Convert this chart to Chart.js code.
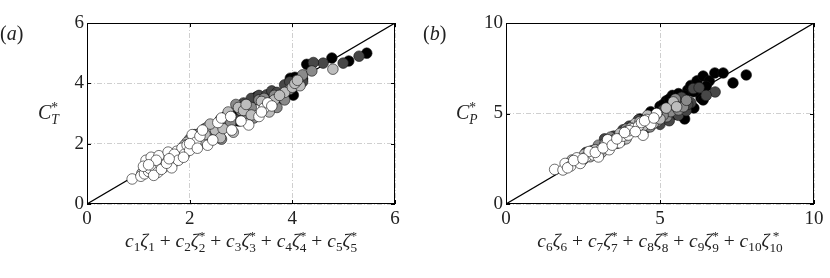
<!DOCTYPE html>
<html>
<head>
<meta charset="utf-8">
<script src="https://cdn.jsdelivr.net/npm/chart.js@4.4.1/dist/chart.umd.min.js"></script>
<style>
  body { margin: 0; background: #fff; width: 830px; height: 278px; overflow: hidden; position: relative;
         font-family: "Liberation Serif", serif; color: #222; }
  .panel { position: absolute; top: 0; height: 278px; }
  .lbl { position: absolute; white-space: nowrap; font-size: 20px; line-height: 1.2; }
  .xt { width: 308px; text-align: center; font-size: 19.5px; top: 229px; }
  .ss { display: inline-flex; flex-direction: column; vertical-align: 0.55em; font-size: 0.68em; line-height: 0.92em; font-style: normal; }
  .ss i { font-style: italic; }
  sub { font-size: 0.68em; font-style: normal; vertical-align: -0.3em; line-height: 0; }
</style>
</head>
<body>
<div class="panel" style="left:0;width:415px"><canvas id="chartA" width="415" height="278"></canvas></div>
<div class="panel" style="left:419px;width:411px"><canvas id="chartB" width="411" height="278"></canvas></div>

<div class="lbl" style="left:0;top:21px">(<i>a</i>)</div>
<div class="lbl" style="left:423px;top:21px">(<i>b</i>)</div>
<div class="lbl" style="left:38px;top:100px"><i>C</i><span class="ss"><span>*</span><i>T</i></span></div>
<div class="lbl" style="left:456px;top:100px"><i>C</i><span class="ss"><span>*</span><i>P</i></span></div>
<div class="lbl xt" style="left:87px">
  <i>c</i><sub>1</sub><i>ζ</i><sub>1</sub> + <i>c</i><sub>2</sub><i>ζ</i><span class="ss"><span>*</span><span>2</span></span>
  + <i>c</i><sub>3</sub><i>ζ</i><span class="ss"><span>*</span><span>3</span></span>
  + <i>c</i><sub>4</sub><i>ζ</i><span class="ss"><span>*</span><span>4</span></span>
  + <i>c</i><sub>5</sub><i>ζ</i><span class="ss"><span>*</span><span>5</span></span>
</div>
<div class="lbl xt" style="left:506px">
  <i>c</i><sub>6</sub><i>ζ</i><sub>6</sub> + <i>c</i><sub>7</sub><i>ζ</i><span class="ss"><span>*</span><span>7</span></span>
  + <i>c</i><sub>8</sub><i>ζ</i><span class="ss"><span>*</span><span>8</span></span>
  + <i>c</i><sub>9</sub><i>ζ</i><span class="ss"><span>*</span><span>9</span></span>
  + <i>c</i><sub>10</sub><i>ζ</i><span class="ss"><span>*</span><span>10</span></span>
</div>

<script>
// ---- panel (a): C_T* against the linear model ----
const aTicks = [0, 2, 4, 6];
const aWhite = [[0.88,0.83],[1.05,0.92],[1.12,1.0],[1.2,1.08],[1.22,1.18],[1.15,1.45],[1.28,1.5],[1.32,1.2],
  [1.38,1.05],[1.42,1.35],[1.47,1.42],[1.5,1.22],[1.55,1.55],[1.6,1.3],[1.63,1.62],[1.7,1.4],[1.75,1.75],
  [1.8,1.52],[1.85,1.85],[1.9,1.65],[1.95,1.95],[2.0,1.78],[2.05,2.3],[2.12,2.05],[2.2,2.25],[2.35,1.95],
  [2.45,2.12],[2.55,2.7],[2.62,2.85],[2.8,2.9],[2.82,2.45],[3.15,2.62],[3.35,2.9],[3.45,3.18],[3.52,3.35],
  [3.4,3.05],[1.25,1.55],[1.4,1.6],[1.58,1.72],[1.3,0.95],[1.65,1.2],[1.1,1.25],[1.35,1.45],[1.45,1.15],
  [1.55,1.35],[1.7,1.65],[1.78,1.45],[1.88,1.55],[2.0,2.0],[2.15,1.85],[2.25,2.45],[1.6,1.5],[1.2,1.3],
  [3.6,3.25],[3.0,2.75]];
const aLight = [[1.07,1.02],[1.3,1.35],[1.5,1.45],[1.65,1.62],[1.85,1.68],[1.95,2.05],[2.15,2.2],[2.27,2.12],
  [2.35,2.55],[2.5,2.45],[2.6,2.2],[2.75,3.05],[2.85,2.38],[2.95,3.2],[3.05,3.1],[3.2,2.95],[3.55,3.05],
  [3.65,3.45],[3.85,3.7],[4.0,3.87],[4.15,3.92],[4.05,4.0],[4.79,4.47],[1.75,1.6],[2.05,1.95],[2.4,2.65],
  [1.25,1.12],[1.6,1.5],[1.9,1.95],[2.3,2.3],[2.65,2.5],[3.1,3.3],[3.4,3.4],[3.75,3.6],[4.1,4.1]];
const aMid = [[1.7,1.58],[1.9,1.8],[2.0,2.15],[2.2,2.35],[2.45,2.5],[2.55,2.35],[2.62,2.15],[2.7,2.6],
  [2.9,3.3],[3.1,3.0],[3.2,3.2],[3.25,2.85],[3.35,3.45],[3.55,3.3],[3.65,3.6],[3.85,3.45],[4.2,4.28],
  [4.38,4.41],[3.7,3.2],[2.4,2.25],[2.1,2.1],[2.35,2.4],[2.8,2.7],[3.0,3.1],[3.45,3.5],[3.95,3.8]];
const aDark = [[1.8,1.72],[2.1,2.3],[2.3,2.5],[2.5,2.6],[2.65,2.7],[2.9,2.8],[3.05,3.35],[3.2,3.5],
  [3.35,3.6],[3.5,3.62],[3.75,3.55],[3.85,3.95],[4.09,4.11],[4.6,4.67],[4.41,4.69],[4.99,4.67],
  [5.3,4.9],[2.2,2.05],[2.6,2.5],[3.6,3.75],[4.2,4.05],[2.4,2.4],[2.75,2.75],[3.1,3.2],[3.7,3.7],[3.95,4.05]];
const aBlack = [[2.05,2.05],[2.25,2.3],[2.55,2.65],[2.75,2.6],[2.8,2.85],[2.95,2.75],[3.0,2.9],[2.7,2.9],
  [3.3,3.55],[3.55,3.55],[3.8,3.5],[3.96,4.17],[3.9,3.7],[4.02,3.61],[4.2,4.15],[4.28,4.63],[4.77,4.84],
  [5.1,4.74],[5.45,5.0],[2.1,1.95],[2.4,2.45],[2.6,2.8],[2.9,2.95],[3.6,3.65],[4.05,4.2]];

// ---- panel (b): C_P* against the linear model ----
const bTicks = [0, 5, 10];
const bWhite = [[1.58,1.91],[1.85,1.88],[1.92,2.24],[2.1,2.1],[2.41,2.24],[2.3,2.55],[2.6,2.6],[2.85,2.7],
  [3.06,2.98],[3.22,3.25],[3.0,2.6],[3.35,3.0],[3.5,3.4],[3.68,3.38],[3.8,3.75],[3.97,3.81],[4.14,4.17],
  [4.3,4.3],[4.0,4.05],[4.4,4.5],[4.57,4.67],[4.7,4.4],[4.89,5.0],[4.45,3.8],[3.3,3.55],[2.7,2.9],
  [2.0,2.0],[2.2,2.4],[2.5,2.5],[2.9,2.85],[3.15,3.1],[3.45,3.25],[3.6,3.6],[3.85,3.95],[4.2,4.0],
  [4.5,4.6],[4.8,4.75]];
const bLight = [[2.14,2.43],[2.4,2.35],[2.73,2.61],[2.9,3.0],[3.1,2.85],[3.33,3.07],[3.55,3.6],[3.7,3.9],
  [3.9,4.0],[4.2,4.45],[4.45,4.3],[4.78,4.45],[4.6,4.9],[5.0,4.7],[5.43,5.64],[5.54,5.37],[5.2,5.3],
  [3.9,3.6],[2.55,2.75],[2.3,2.4],[2.8,2.8],[3.2,3.3],[3.45,3.5],[4.05,4.2],[4.35,4.55],[4.9,5.0]];
const bMid = [[2.5,2.45],[3.0,3.25],[3.4,3.7],[3.75,3.5],[4.1,4.3],[4.35,4.0],[4.68,4.26],[4.9,4.55],
  [5.22,4.82],[5.35,5.1],[5.6,5.2],[5.76,5.37],[5.86,5.73],[5.5,5.8],[3.6,3.35],[2.8,2.95],[3.3,3.4],
  [3.9,4.15],[4.5,4.45],[5.1,4.9],[5.5,5.4]];
const bDark = [[2.6,2.85],[3.2,3.6],[3.8,4.1],[4.3,4.65],[4.55,4.2],[5.0,4.4],[5.3,4.6],[5.1,5.2],
  [5.45,5.5],[5.7,5.9],[6.08,6.38],[6.27,6.43],[6.0,5.6],[6.79,6.19],[5.6,4.9],[5.85,5.15],[6.5,6.0],
  [3.5,3.75],[4.0,4.3],[4.8,4.8],[5.2,5.0],[5.6,5.6],[5.9,5.5]];
const bBlack = [[4.35,4.7],[4.7,5.1],[5.0,5.4],[5.2,5.7],[5.3,5.1],[5.4,6.0],[5.6,6.1],[5.75,5.6],
  [5.9,6.3],[6.0,6.55],[6.2,6.8],[6.4,7.07],[6.6,6.8],[6.78,7.24],[7.05,7.24],[7.37,6.69],[7.8,7.13],
  [6.33,5.86],[6.4,5.75],[5.5,4.95],[5.8,4.7],[6.1,5.3],[6.5,6.5],[5.2,5.2],[4.6,4.8],[5.1,5.5],
  [5.3,5.8],[5.6,5.3],[5.8,6.0],[6.1,6.2]];

const shades = ['#ffffff', '#bdbdbd', '#8a8a8a', '#474747', '#000000'];

// frame + inward ticks like the original figure
const framePlugin = {
    id: 'frame',
    afterDraw(chart) {
        const { ctx, chartArea: a, scales } = chart;
        ctx.save();
        ctx.strokeStyle = '#000';
        ctx.lineWidth = 1;
        ctx.strokeRect(a.left + 0.5, a.top + 0.5, a.right - a.left - 1, a.bottom - a.top - 1);
        ctx.beginPath();
        scales.x.ticks.forEach(t => {
            const px = Math.round(scales.x.getPixelForValue(t.value)) + 0.5;
            ctx.moveTo(px, a.bottom); ctx.lineTo(px, a.bottom - 4);
            ctx.moveTo(px, a.top); ctx.lineTo(px, a.top + 4);
        });
        scales.y.ticks.forEach(t => {
            const py = Math.round(scales.y.getPixelForValue(t.value)) + 0.5;
            ctx.moveTo(a.left, py); ctx.lineTo(a.left + 4, py);
            ctx.moveTo(a.right, py); ctx.lineTo(a.right - 4, py);
        });
        ctx.stroke();
        ctx.restore();
    }
};

function makePanel(id, groups, ticks, padRight) {
    const max = ticks[ticks.length - 1];
    const font = { family: '"Liberation Serif", serif', size: 19 };
    const datasets = groups.map((g, i) => ({
        type: 'scatter',
        data: g.map(p => ({ x: p[0], y: p[1] })),
        backgroundColor: shades[i],
        borderColor: '#111',
        borderWidth: 0.6,
        pointRadius: 5.3,
        order: i
    }));
    datasets.push({
        type: 'line',
        data: [{ x: 0, y: 0 }, { x: max, y: max }],
        borderColor: '#000',
        borderWidth: 1.2,
        pointRadius: 0,
        order: 10
    });
    const axis = (pos) => ({
        type: 'linear',
        position: pos,
        min: 0,
        max: max,
        afterBuildTicks: s => { s.ticks = ticks.map(v => ({ value: v })); },
        grid: { color: '#cfcfcf', lineWidth: 1, drawTicks: false },
        border: { display: false, dash: [5, 2, 1, 2] },
        ticks: { font: font, color: '#222', padding: pos === 'left' ? 3 : 4 },
        afterFit: s => { if (pos === 'left') s.width = 87; else s.height = 74; }
    });
    return new Chart(document.getElementById(id), {
        data: { datasets },
        options: {
            responsive: false,
            animation: false,
            layout: { padding: { top: 23, right: padRight, left: 0, bottom: 0 } },
            plugins: { legend: { display: false }, tooltip: { enabled: false } },
            scales: { x: axis('bottom'), y: axis('left') }
        },
        plugins: [framePlugin]
    });
}

makePanel('chartA', [aWhite, aLight, aMid, aDark, aBlack], aTicks, 20);
makePanel('chartB', [bWhite, bLight, bMid, bDark, bBlack], bTicks, 16);
</script>
</body>
</html>
